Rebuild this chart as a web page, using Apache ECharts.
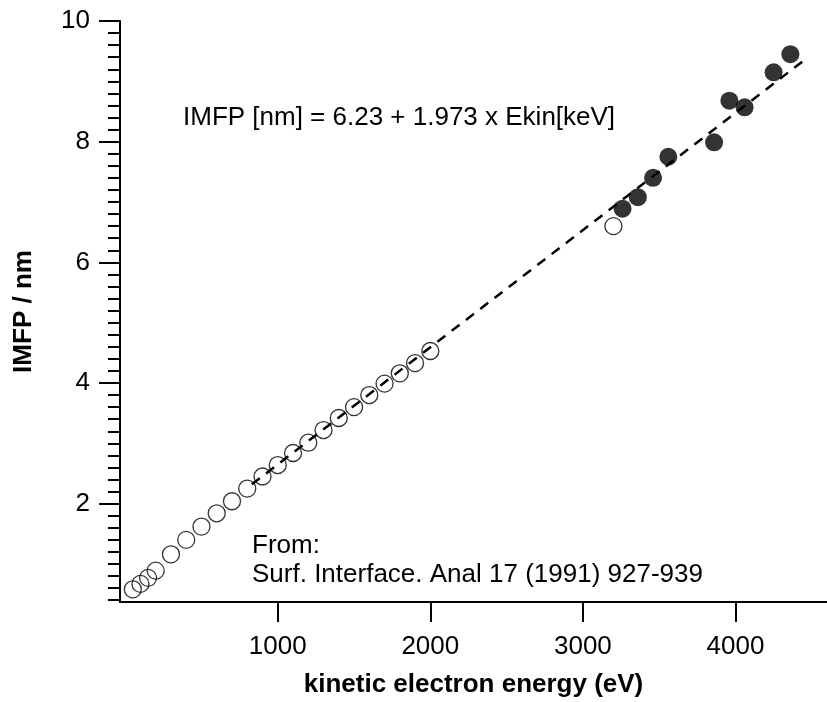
<!DOCTYPE html>
<html>
<head>
<meta charset="utf-8">
<script src="https://cdn.jsdelivr.net/npm/echarts@6/dist/echarts.min.js"></script>
<style>
  html, body { margin: 0; padding: 0; background: #fff; }
  #chart { width: 827px; height: 702px; }
</style>
</head>
<body>
<div id="chart"></div>
<script>
// open circles (eV, nm)
var openX = [50, 100, 150, 200, 300, 400, 500, 600, 700, 800, 900, 1000, 1100, 1200, 1300, 1400, 1500, 1600, 1700, 1800, 1900, 2000, 3200]
var openY = [0.58, 0.67, 0.77, 0.89, 1.16, 1.40, 1.62, 1.84, 2.04, 2.25, 2.45, 2.64, 2.84, 3.01, 3.22, 3.42, 3.60, 3.80, 3.99, 4.16, 4.33, 4.53, 6.60]
// filled circles
var filledX = [3260, 3360, 3460, 3560, 3860, 3960, 4060, 4250, 4360]
var filledY = [6.89, 7.08, 7.40, 7.75, 7.99, 8.68, 8.57, 9.15, 9.45]
// dashed fit line end points
var fitX = [830, 4450]
var fitY = [2.32, 9.35]
// tick labels
var xTicks = [1000, 2000, 3000, 4000]
var yTicks = [2, 4, 6, 8, 10]

// minor y ticks every 0.2
var yMinor = []
for (var v = 4; v <= 100; v += 2) yMinor.push(v / 10)

function pairs(xs, ys) {
  return xs.map(function(x, i) { return [x, ys[i]] })
}

var FONT = 'Liberation Sans, Arial, sans-serif'
var chart = echarts.init(document.getElementById('chart'))
chart.setOption({
  backgroundColor: '#fff',
  animation: false,
  grid: { left: 120, right: 0, top: 21, bottom: 100, outerBoundsMode: 'none' },
  xAxis: {
    type: 'value',
    min: -34,
    max: 4600,
    name: 'kinetic electron energy (eV)',
    nameLocation: 'middle',
    nameGap: 70,
    nameTextStyle: { color: '#000', fontSize: 26, fontWeight: 'bold', fontFamily: FONT },
    axisLine: { onZero: false, lineStyle: { color: '#000', width: 2 } },
    axisTick: { customValues: xTicks, inside: false, length: 20, lineStyle: { color: '#000', width: 2 } },
    axisLabel: {
      customValues: xTicks, margin: 32, color: '#000', fontSize: 26, fontFamily: FONT,
      formatter: function(v) { return String(v) }
    },
    splitLine: { show: false }
  },
  yAxis: [{
    type: 'value',
    min: 0.37,
    max: 10,
    offset: 0,
    name: 'IMFP / nm',
    nameLocation: 'middle',
    nameGap: 83,
    nameTextStyle: { color: '#000', fontSize: 26, fontWeight: 'bold', fontFamily: FONT },
    axisLine: { onZero: false, lineStyle: { color: '#000', width: 2 } },
    axisTick: { customValues: yTicks, inside: false, length: 21, lineStyle: { color: '#000', width: 2 } },
    axisLabel: {
      customValues: yTicks, margin: 30, color: '#000', fontSize: 26, fontFamily: FONT,
      formatter: function(v) { return String(v) }
    },
    splitLine: { show: false }
  }, {
    type: 'value',
    min: 0.37,
    max: 10,
    position: 'left',
    offset: 0,
    axisLine: { show: false, onZero: false },
    axisTick: { show: true, customValues: yMinor, inside: false, length: 12, lineStyle: { color: '#000', width: 2 } },
    axisLabel: { show: false },
    splitLine: { show: false }
  }],
  graphic: [
    { type: 'text', left: 183, top: 105, style: { text: 'IMFP [nm] = 6.23 + 1.973 x Ekin[keV]', fill: '#000', font: '26px ' + FONT } },
    { type: 'text', left: 252, top: 533, style: { text: 'From:', fill: '#000', font: '26px ' + FONT } },
    { type: 'text', left: 252, top: 562, style: { text: 'Surf. Interface. Anal 17 (1991) 927-939', fill: '#000', font: '26px ' + FONT } }
  ],
  series: [{
    type: 'line',
    data: pairs(fitX, fitY),
    symbol: 'none',
    z: 1,
    lineStyle: { color: '#000', width: 2.5, type: [10, 8] }
  }, {
    type: 'scatter',
    data: pairs(openX, openY),
    symbol: 'circle',
    symbolSize: 17,
    z: 2,
    itemStyle: { color: 'rgba(0,0,0,0)', borderColor: '#000', borderWidth: 1.3 }
  }, {
    type: 'scatter',
    data: pairs(filledX, filledY),
    symbol: 'circle',
    symbolSize: 18,
    z: 3,
    itemStyle: { color: '#000' }
  }]
})
</script>
</body>
</html>
